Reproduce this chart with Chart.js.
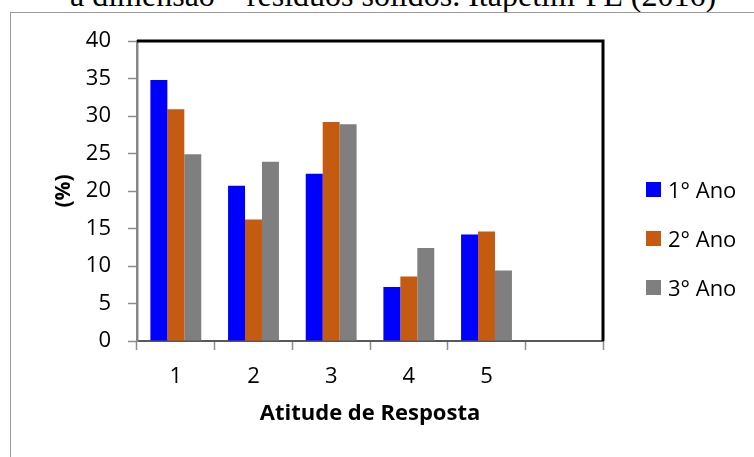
<!DOCTYPE html>
<html>
<head>
<meta charset="utf-8">
<script src="https://cdn.jsdelivr.net/npm/chart.js@4"></script>
<style>
    body { margin: 0; width: 754px; height: 457px; overflow: hidden; background: #fff; position: relative; }
    #title { position: absolute; left: 70px; top: -21px; font: 32px/32px "Liberation Serif", serif; color: #000; white-space: nowrap; }
    #frame { position: absolute; left: 10px; top: 12px; width: 900px; height: 600px; border: 1px solid #9a9a9a; }
    #wrap { position: absolute; left: 0; top: 0; width: 754px; height: 457px; }
    .leg { position: absolute; left: 646px; height: 15px; font: 22px "Open Sans", sans-serif; color: #000; white-space: nowrap; }
    .leg span.box { position: absolute; left: 0; top: 0; width: 15px; height: 15px; }
    .leg span.txt { position: absolute; left: 22px; top: -8px; line-height: 30px; }
</style>
</head>
<body>
<div id="title">a dimensão – resíduos sólidos. Itapetim-PE (2016)</div>
<div id="frame"></div>
<div id="wrap"><canvas id="bar_chart" width="754" height="457"></canvas></div>
<div id="legend"></div>
<script>
var categories = ["1", "2", "3", "4", "5", ""];
var seriesNames = ["1° Ano", "2° Ano", "3° Ano"];
var ano1 = [34.8, 20.7, 22.3, 7.2, 14.2, null];
var ano2 = [30.9, 16.2, 29.2, 8.6, 14.6, null];
var ano3 = [24.9, 23.9, 28.9, 12.4, 9.4, null];
var yMin = 0, yMax = 40, yStep = 5;

var colors = ['#0000ff', '#c55a11', '#7f7f7f'];
var FONT = '"Open Sans", sans-serif';

// black frame on top and right of the plot area
var plotFrame = {
    id: 'plotFrame',
    afterDraw: function (chart) {
        var a = chart.chartArea, ctx = chart.ctx;
        ctx.save();
        ctx.strokeStyle = '#000';
        ctx.lineWidth = 3;
        ctx.beginPath();
        ctx.moveTo(a.left, a.top);
        ctx.lineTo(a.right, a.top);
        ctx.lineTo(a.right, a.bottom);
        ctx.stroke();
        ctx.restore();
    }
};

window.onload = function () {
    var values = [ano1, ano2, ano3];
    var datasets = [];
    for (var i = 0; i < seriesNames.length; i++) {
        datasets.push({
            label: seriesNames[i],
            data: values[i],
            backgroundColor: colors[i],
            barPercentage: 1,
            categoryPercentage: 0.655
        });
    }

    new Chart(document.getElementById("bar_chart").getContext("2d"), {
        type: 'bar',
        data: { labels: categories, datasets: datasets },
        options: {
            responsive: false,
            animation: false,
            layout: { padding: { left: 47, top: 41, right: 151, bottom: 26 } },
            plugins: { legend: { display: false }, tooltip: { enabled: false } },
            scales: {
                x: {
                    afterFit: function (s) { s.height = 90; },
                    grid: { offset: true, drawOnChartArea: false, tickLength: 9, tickColor: '#8c8c8c', tickWidth: 1.5 },
                    border: { color: '#595959', width: 2 },
                    ticks: { color: '#000', padding: 14, font: { family: FONT, size: 22 } },
                    title: { display: true, text: 'Atitude de Resposta', color: '#000', font: { family: FONT, size: 22, weight: 'bold' } }
                },
                y: {
                    min: yMin,
                    max: yMax,
                    afterFit: function (s) { s.width = 90; },
                    grid: { drawOnChartArea: false, tickLength: 9, tickColor: '#8c8c8c', tickWidth: 1.5 },
                    border: { color: '#868686', width: 2.5 },
                    ticks: { stepSize: yStep, color: '#000', padding: 17, font: { family: FONT, size: 22 } },
                    title: { display: true, text: '(%)', color: '#000', font: { family: FONT, size: 21, weight: 'bold' } }
                }
            }
        },
        plugins: [plotFrame]
    });

    var tops = [182, 231, 280];
    var html = '';
    for (var j = 0; j < seriesNames.length; j++) {
        html += '<div class="leg" style="top:' + tops[j] + 'px"><span class="box" style="background:' + colors[j] + '"></span><span class="txt">' + seriesNames[j] + '</span></div>';
    }
    document.getElementById('legend').innerHTML = html;
};
</script>
</body>
</html>
